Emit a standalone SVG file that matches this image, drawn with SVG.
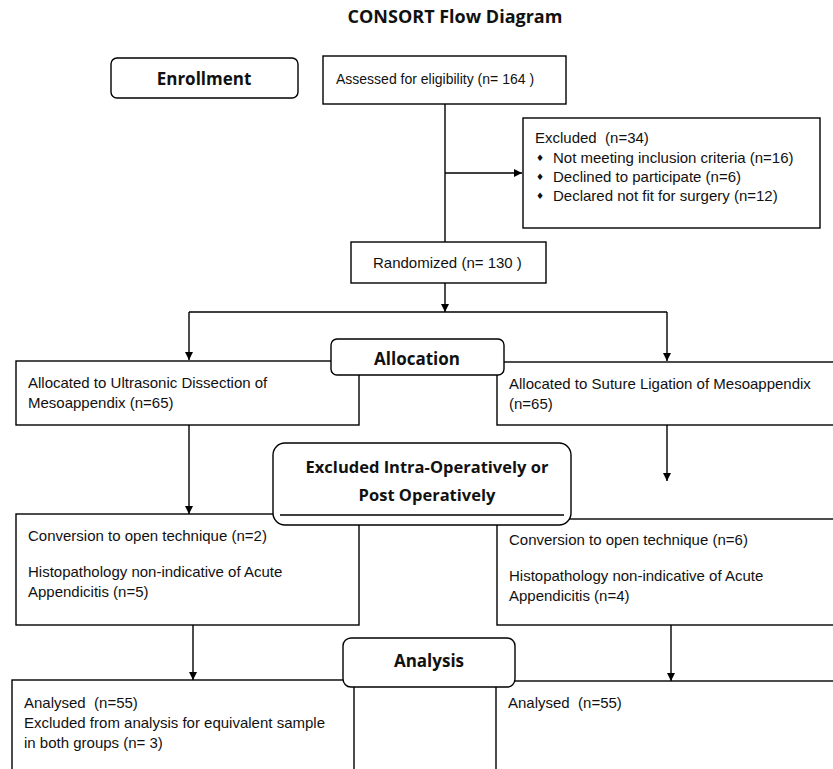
<svg xmlns="http://www.w3.org/2000/svg" width="833" height="769" viewBox="0 0 833 769">
<defs>
<style>
.box{fill:#fff;stroke:#000;stroke-width:1.4}
.hdr{fill:#fff;stroke:#000;stroke-width:1.4}
.t{font-family:"Liberation Sans",Arial,sans-serif;font-size:15px;fill:#111;white-space:pre}
.h{font-family:"Open Sans","Liberation Sans",sans-serif;font-weight:bold;font-size:17px;fill:#111;text-anchor:middle}
.ln{fill:none;stroke:#000;stroke-width:1.4}
.bul{font-family:"DejaVu Sans",sans-serif;font-size:9px;fill:#111}
</style>
<marker id="arr" viewBox="0 0 10 10" refX="10" refY="5" markerWidth="8" markerHeight="8" markerUnits="userSpaceOnUse" orient="auto">
<path d="M0,0 L10,5 L0,10 Z" fill="#000"/>
</marker>
</defs>
<rect width="833" height="769" fill="#fff"/>
<text x="455" y="23" class="h" style="font-size:18px">CONSORT Flow Diagram</text>

<g id="connectors">
<line class="ln" x1="445" y1="104" x2="445" y2="242"/>
<line class="ln" x1="445" y1="173" x2="522" y2="173" marker-end="url(#arr)"/>
<line class="ln" x1="445" y1="283" x2="445" y2="312" marker-end="url(#arr)"/>
<polyline class="ln" points="189,312 667,312"/>
<line class="ln" x1="189" y1="312" x2="189" y2="360" marker-end="url(#arr)"/>
<line class="ln" x1="667" y1="312" x2="667" y2="361" marker-end="url(#arr)"/>
<line class="ln" x1="189" y1="425" x2="189" y2="514" marker-end="url(#arr)"/>
<line class="ln" x1="667" y1="425" x2="667" y2="481" marker-end="url(#arr)"/>
<line class="ln" x1="193" y1="625" x2="193" y2="680" marker-end="url(#arr)"/>
<line class="ln" x1="671" y1="625" x2="671" y2="681" marker-end="url(#arr)"/>
</g>

<g id="enrollment">
<rect class="hdr" x="111" y="58" width="187" height="40" rx="6"/>
<text x="204" y="85" class="h">Enrollment</text>
</g>
<g id="assessed">
<rect class="box" x="323" y="56" width="243" height="48"/>
<text x="336" y="84" class="t" style="font-size:14px">Assessed for eligibility (n= 164 )</text>
</g>
<g id="excluded">
<rect class="box" x="523" y="118" width="297" height="110"/>
<text x="535" y="143" class="t" xml:space="preserve">Excluded  (n=34)</text>
<text x="536" y="161" class="bul">♦</text>
<text x="553" y="163" class="t">Not meeting inclusion criteria (n=16)</text>
<text x="536" y="180" class="bul">♦</text>
<text x="553" y="182" class="t">Declined to participate (n=6)</text>
<text x="536" y="199" class="bul">♦</text>
<text x="553" y="201" class="t">Declared not fit for surgery (n=12)</text>
</g>
<g id="randomized">
<rect class="box" x="351" y="242" width="195" height="41"/>
<text x="373" y="268" class="t">Randomized (n= 130 )</text>
</g>
<g id="alloc-left">
<rect class="box" x="16" y="361" width="343" height="64"/>
<text x="28" y="388" class="t">Allocated to Ultrasonic Dissection of</text>
<text x="28" y="408" class="t">Mesoappendix (n=65)</text>
</g>
<g id="alloc-right">
<rect class="box" x="497" y="362" width="350" height="63"/>
<text x="509" y="389" class="t">Allocated to Suture Ligation of Mesoappendix</text>
<text x="509" y="409" class="t">(n=65)</text>
</g>
<g id="allocation">
<rect class="hdr" x="331" y="339" width="173" height="36" rx="6"/>
<text x="417" y="365" class="h">Allocation</text>
</g>
<g id="excl-left">
<rect class="box" x="16" y="514" width="343" height="111"/>
<text x="28" y="541" class="t">Conversion to open technique (n=2)</text>
<text x="28" y="577" class="t">Histopathology non-indicative of Acute</text>
<text x="28" y="597" class="t">Appendicitis (n=5)</text>
</g>
<g id="excl-right">
<rect class="box" x="497" y="519" width="350" height="106"/>
<text x="509" y="545" class="t">Conversion to open technique (n=6)</text>
<text x="509" y="581" class="t">Histopathology non-indicative of Acute</text>
<text x="509" y="601" class="t">Appendicitis (n=4)</text>
</g>
<g id="excluded-intra">
<rect class="hdr" x="273" y="443" width="298" height="82" rx="12"/>
<line class="ln" x1="280" y1="515" x2="564" y2="515"/>
<text x="427" y="473" class="h" style="font-size:16.5px">Excluded Intra-Operatively or</text>
<text x="427" y="501" class="h" style="font-size:16.5px">Post Operatively</text>
</g>
<g id="analysed-left">
<rect class="box" x="12" y="680" width="342" height="100"/>
<text x="24" y="708" class="t" xml:space="preserve">Analysed  (n=55)</text>
<text x="24" y="728" class="t">Excluded from analysis for equivalent sample</text>
<text x="24" y="748" class="t">in both groups (n= 3)</text>
</g>
<g id="analysed-right">
<rect class="box" x="496" y="681" width="350" height="100"/>
<text x="508" y="708" class="t" xml:space="preserve">Analysed  (n=55)</text>
</g>
<g id="analysis">
<rect class="hdr" x="343" y="638" width="172" height="49" rx="8"/>
<text x="429" y="667" class="h">Analysis</text>
</g>
</svg>
